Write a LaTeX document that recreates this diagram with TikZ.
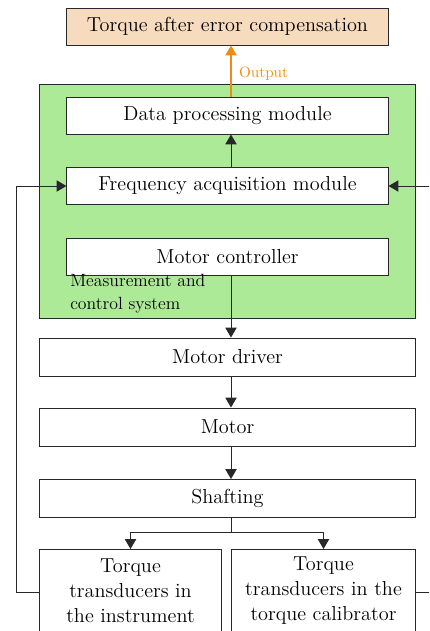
\documentclass[tikz,border=0pt]{standalone}
\usepackage{fontspec}
\usepackage{tikz}
\usetikzlibrary{arrows.meta,calc}
\definecolor{peach}{RGB}{246,219,190}
\definecolor{mcsgreen}{RGB}{173,234,151}
\definecolor{outorange}{RGB}{240,140,20}
\definecolor{boxline}{RGB}{40,40,40}
\tikzset{>={Triangle[length=7pt,width=8pt]}}
\tikzset{block/.style={draw=boxline,line width=0.7pt,fill=white,minimum width=8.025cm,minimum height=0.925cm,inner sep=0pt,font=\fontsize{14.4}{17.8}\selectfont}}
\tikzset{wideblock/.style={block,minimum width=9.375cm,minimum height=0.95cm}}
\tikzset{sensor/.style={block,anchor=north,minimum height=2.05cm,align=center}}
\tikzset{link/.style={line width=0.7pt,boxline,->}}

\begin{document}
\begin{tikzpicture}[x=0.025cm,y=-0.025cm]
	\useasboundingbox (0,0) rectangle (429,631);
	\clip (0,0) rectangle (429,631);
	% output and measurement and control system
	\node [block,fill=peach] (torque) at (227.5,26.5) {Torque after error compensation};
	\node [draw=boxline,line width=0.7pt,fill=mcsgreen,minimum width=9.375cm,minimum height=5.825cm,inner sep=0pt] (mcs) at (227.5,201.5) {};
	\node [block] (data) at (227.5,115.5) {Data processing module};
	\node [block] (freq) at (227.5,186) {Frequency acquisition module};
	\node [block] (ctrl) at (227.5,256.5) {Motor controller};
	\node [anchor=north west,align=left,inner sep=0pt,font=\fontsize{12.6}{16.3}\selectfont] (mcslabel) at (70,274) {Measurement and\\control system};
	% drive chain
	\node [wideblock] (driver) at (227.5,357) {Motor driver};
	\node [wideblock] (motor) at (227.5,427) {Motor};
	\node [wideblock] (shaft) at (227.5,498.5) {Shafting};
	\node [sensor,minimum width=4.525cm] (inst) at (130.5,549) {Torque\\transducers in\\the instrument};
	\node [sensor,minimum width=4.575cm] (calib) at (323.5,549) {Torque\\transducers in the\\torque calibrator};

	\draw [line width=0.9pt,outorange,->] ($(data.north)+(3.5,0)$) -- ($(torque.south)+(3.5,0)$) node [pos=0.45,right=2pt,font=\fontsize{10.8}{12}\selectfont] {Output};
	\draw [link] ($(freq.north)+(3.5,0)$) -- ($(data.south)+(3.5,0)$);
	\draw [link] ($(ctrl.south)+(3.5,0)$) -- ($(driver.north)+(3.5,0)$);
	\draw [link] ($(driver.south)+(3.5,0)$) -- ($(motor.north)+(3.5,0)$);
	\draw [link] ($(motor.south)+(3.5,0)$) -- ($(shaft.north)+(3.5,0)$);
	\coordinate (split) at ($(shaft.south)+(3.5,14)$);
	\draw [line width=0.7pt,boxline] ($(shaft.south)+(3.5,0)$) -- (split);
	\draw [link] (split) -| (inst.north);
	\draw [link] (split) -| (calib.north);
	% feedback of both transducers
	\draw [link] ($(inst.west)+(0,2)$) -- ++(-23,0) |- (freq.west);
	\draw [link] ($(calib.east)+(0,2)$) -- ++(20,0) |- (freq.east);
\end{tikzpicture}
\end{document}
